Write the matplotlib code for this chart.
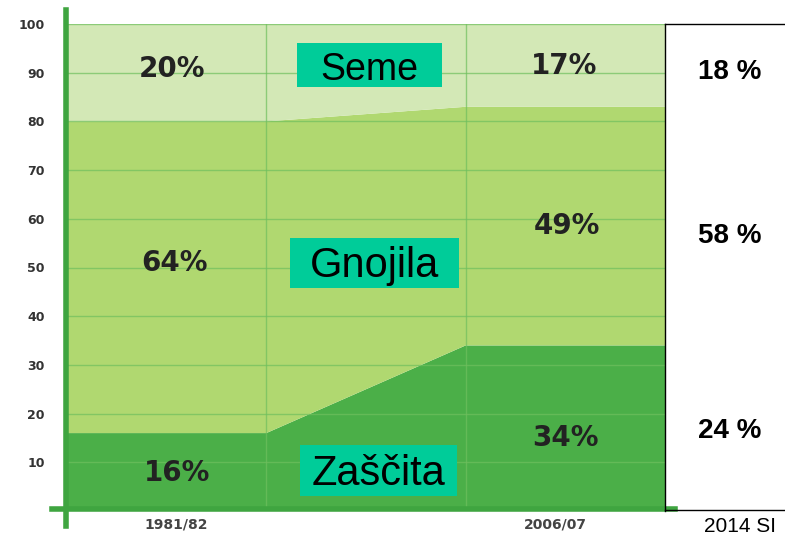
import matplotlib.pyplot as plt
from matplotlib.patches import Rectangle

# Shares (%) per period: 1981/82 column, transition, 2006/07 column
x = [0, 1, 2, 3]
zascita = [16, 16, 34, 34]
gnojila = [64, 64, 49, 49]
seme = [20, 20, 17, 17]

tick_labels = ['1981/82', '2006/07']
yticks = list(range(10, 101, 10))

pct_left = ['16%', '64%', '20%']
pct_right = ['34%', '49%', '17%']
names = ['Zaščita', 'Gnojila', 'Seme']
si2014 = ['24 %', '58 %', '18 %']

c_bot = '#4BAF48'
c_mid = '#B0D870'
c_top = '#D3E8B6'
c_grid = '#6FBF5E'
c_box = '#00CC99'

W, H = 785, 540


def fx(px):
    return px / W


def fy(py):
    return 1 - py / H


fig = plt.figure(figsize=(7.85, 5.4), dpi=100)
ax = fig.add_axes([fx(67), fy(511), (665 - 67) / W, (511 - 24) / H])

ax.stackplot(x, zascita, gnojila, seme, colors=[c_bot, c_mid, c_top], zorder=1)

ax.set_xlim(0, 3)
ax.set_ylim(0, 100)

for v in yticks:
    ax.axhline(v, color=c_grid, lw=1, alpha=0.7, zorder=2)
for v in [1, 2]:
    ax.axvline(v, color=c_grid, lw=1, alpha=0.7, zorder=2)

ax.set_yticks(yticks)
ax.set_yticklabels([str(v) for v in yticks], fontsize=9, fontweight='bold', color='#333333')
ax.set_xticks([0.55, 2.45])
ax.set_xticklabels(tick_labels, fontsize=10, fontweight='bold', color='#444444')
ax.tick_params(axis='both', length=0)
ax.tick_params(axis='x', pad=5)
ax.tick_params(axis='y', pad=16)

for s in ax.spines.values():
    s.set_visible(False)

# thick green axis lines
fig.add_artist(plt.Line2D([fx(66), fx(66)], [fy(526), fy(10)], color='#3FA540', lw=4))
fig.add_artist(plt.Line2D([fx(52), fx(675)], [fy(509), fy(509)], color='#3FA540', lw=4))

# percent labels inside the layers
pos_l = [(0.552, 7.9), (0.537, 50.9), (0.527, 90.8)]
pos_r = [(2.50, 14.9), (2.51, 58.5), (2.493, 91.3)]
for i in range(3):
    ax.text(pos_l[i][0], pos_l[i][1], pct_left[i], ha='center', va='center',
            fontsize=20, fontweight='bold', color='#222222', zorder=3)
    ax.text(pos_r[i][0], pos_r[i][1], pct_right[i], ha='center', va='center',
            fontsize=20, fontweight='bold', color='#222222', zorder=3)

# category name boxes (left, top, right, bottom in pixels; text baseline)
boxes = [(300, 445, 457, 496), (290, 238, 459, 288), (297, 43, 442, 87)]
baselines = [485, 277, 80]
name_sizes = [30, 30, 27]
for n, (l, t, r, b), bl, fs in zip(names, boxes, baselines, name_sizes):
    fig.add_artist(Rectangle((fx(l), fy(b)), (r - l) / W, (b - t) / H,
                             facecolor=c_box, edgecolor='none', zorder=4))
    fig.text(fx((l + r) / 2), fy(bl), n, ha='center', va='baseline', fontsize=fs,
             family='Liberation Sans', color='black', zorder=5)

# 2014 SI column on the right
fig.add_artist(plt.Line2D([fx(665), fx(665)], [fy(511), fy(24)], color='black', lw=1))
fig.add_artist(plt.Line2D([fx(665), 1], [fy(24), fy(24)], color='black', lw=1))
fig.add_artist(plt.Line2D([fx(665), 1], [fy(510), fy(510)], color='black', lw=1))
si_y = [431, 236, 72]
for t, py in zip(si2014, si_y):
    fig.text(fx(730), fy(py), t, ha='center', va='center', fontsize=20,
             fontweight='bold', family='Liberation Sans')
fig.text(fx(740), fy(527), '2014 SI', ha='center', va='center', fontsize=15,
         family='Liberation Sans')

fig.savefig('out.png', dpi=100)
